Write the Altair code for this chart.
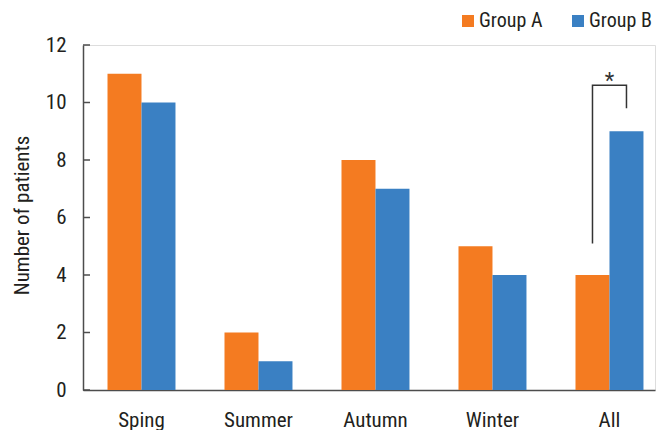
import altair as alt
import pandas as pd

# Patient counts per season for the two groups
seasons = ["Sping", "Summer", "Autumn", "Winter", "All"]
group_a = [11, 2, 8, 5, 4]
group_b = [10, 1, 7, 4, 9]
groups = ["Group A", "Group B"]
colors = ["#F47B21", "#3A80C3"]
y_ticks = [0, 2, 4, 6, 8, 10, 12]

# Significance bracket between the two "All" bars
bracket_group = ["Group A", "Group A", "Group B", "Group B"]
bracket_y = [5.1, 10.6, 10.6, 9.8]
star_y = 10.5

FONT = "Liberation Sans Narrow, Roboto Condensed, DejaVu Sans Condensed, sans-serif"
INK = "#231F20"
AXIS = "#4D4D4D"
FS = 21

bars_df = pd.DataFrame(
    {
        "season": seasons * 2,
        "group": [groups[0]] * len(seasons) + [groups[1]] * len(seasons),
        "count": group_a + group_b,
    }
)
ticks_df = pd.DataFrame({"v": y_ticks})
bracket_df = pd.DataFrame(
    {
        "season": ["All"] * 4,
        "group": bracket_group,
        "y": bracket_y,
        "k": list(range(4)),
    }
)
star_df = pd.DataFrame({"season": ["All"], "y": [star_y], "t": ["*"]})

x_scale = alt.Scale(domain=seasons, paddingInner=0.419, paddingOuter=0.154, align=0.68)
y_scale = alt.Scale(domain=[0, 12], nice=False, zero=True)

x_enc = alt.X(
    "season:N",
    sort=seasons,
    scale=x_scale,
    title=None,
    axis=alt.Axis(
        labelAngle=0,
        labelFont=FONT,
        labelFontSize=FS,
        labelColor=INK,
        labelPadding=19,
        ticks=False,
        tickSize=0,
        domainColor=AXIS,
        domainWidth=1.5,
    ),
)
y_enc = alt.Y(
    "count:Q",
    scale=y_scale,
    title="Number of patients",
    axis=alt.Axis(
        values=y_ticks,
        grid=False,
        ticks=False,
        tickSize=0,
        labelFont=FONT,
        labelFontSize=FS,
        labelColor=INK,
        labelPadding=17,
        domainColor=AXIS,
        domainWidth=1.5,
        titleFont=FONT,
        titleFontSize=FS,
        titleFontWeight="normal",
        titleColor=INK,
        titleAngle=270,
        titleX=-61,
        titleY=170,
        titleAlign="center",
        titleBaseline="middle",
    ),
)

bars = (
    alt.Chart(bars_df)
    .mark_bar()
    .encode(
        x=x_enc,
        xOffset=alt.XOffset("group:N", sort=groups, scale=alt.Scale(paddingInner=0, paddingOuter=0)),
        y=y_enc,
        color=alt.Color(
            "group:N",
            sort=groups,
            scale=alt.Scale(domain=groups, range=colors),
            legend=alt.Legend(
                title=None,
                orient="none",
                direction="horizontal",
                legendX=375,
                legendY=-34,
                symbolType="square",
                symbolSize=144,
                symbolStrokeWidth=0,
                labelFont=FONT,
                labelFontSize=20,
                labelColor=INK,
                labelOffset=1,
                columnPadding=25,
                padding=0,
            ),
        ),
    )
)

# Inward-pointing tick marks on the value axis
inner_ticks = (
    alt.Chart(ticks_df)
    .mark_rule(color=AXIS, strokeWidth=1.5)
    .encode(x=alt.value(0), x2=alt.value(7), y=alt.Y("v:Q", scale=y_scale))
)

bracket = (
    alt.Chart(bracket_df)
    .mark_line(color="#333333", strokeWidth=1.5)
    .encode(
        x=alt.X("season:N", sort=seasons, scale=x_scale),
        xOffset=alt.XOffset("group:N", sort=groups),
        y=alt.Y("y:Q", scale=y_scale),
        order="k:Q",
    )
)

star = (
    alt.Chart(star_df)
    .mark_text(font=FONT, fontSize=22, color="#333333", baseline="alphabetic")
    .encode(
        x=alt.X("season:N", sort=seasons, scale=x_scale),
        y=alt.Y("y:Q", scale=y_scale),
        text="t:N",
    )
)

chart = (
    alt.layer(bars, inner_ticks, bracket, star)
    .properties(
        width=572,
        height=345,
        autosize=alt.AutoSizeParams(type="none"),
        padding={"left": 83, "top": 45, "right": 11, "bottom": 40},
    )
    .configure_view(stroke=None)
    .configure(background="white")
)

chart.save("out.html", embed_options={"renderer": "svg", "actions": False})
